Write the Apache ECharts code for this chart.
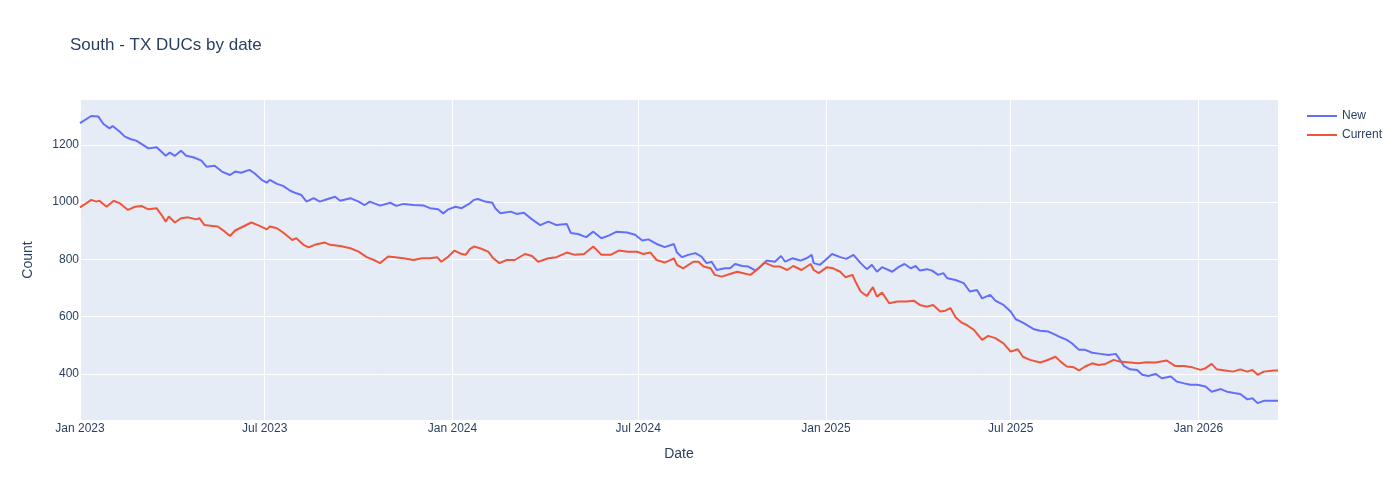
<!DOCTYPE html>
<html>
<head>
<meta charset="utf-8">
<script src="https://cdn.jsdelivr.net/npm/echarts@6/dist/echarts.min.js"></script>
<style>
html,body{margin:0;padding:0;background:#fff;}
#chart{width:1400px;height:500px;}
</style>
</head>
<body>
<div id="chart"></div>
<script>
// Days since 2023-01-01 and values
const newDays = [0,11,18,23,29,32,39,44,50,55,59,67,75,78,84,88,93,99,104,111,119,124,132,139,147,152,158,166,171,178,183,186,193,199,206,212,217,222,229,235,242,250,255,265,273,279,284,294,304,310,317,327,337,343,351,356,361,368,374,382,386,390,397,404,407,412,422,428,435,443,451,459,467,477,481,488,496,503,511,518,526,536,544,551,557,565,573,582,585,590,596,603,609,614,619,624,632,637,642,649,655,662,667,673,681,687,691,698,706,712,717,719,725,730,737,745,751,758,765,771,776,781,786,796,802,808,814,819,823,830,835,841,846,850,858,866,872,879,884,892,897,905,912,917,924,935,941,949,954,961,967,972,979,985,992,1000,1008,1015,1018,1023,1029,1036,1041,1047,1054,1060,1069,1075,1082,1088,1095,1103,1109,1118,1124,1131,1137,1144,1149,1154,1160,1167,1174];
const newValues = [1276,1301,1299,1273,1258,1266,1246,1229,1220,1215,1206,1188,1192,1182,1162,1173,1162,1180,1162,1157,1145,1124,1127,1107,1095,1107,1103,1113,1101,1078,1068,1078,1064,1057,1040,1031,1025,1002,1014,1002,1010,1019,1005,1014,1002,990,1002,988,998,987,994,990,988,979,975,961,975,984,979,996,1008,1011,1002,998,979,961,967,959,963,940,920,932,920,924,892,889,878,897,874,883,897,894,886,866,870,854,843,854,824,808,816,822,810,787,792,763,769,769,784,777,775,761,775,796,792,812,792,804,796,804,816,787,781,796,819,808,802,816,787,766,781,757,773,757,773,784,769,777,761,766,761,746,752,734,728,717,688,693,664,676,656,641,618,591,579,556,551,548,540,528,519,507,484,484,474,470,466,470,455,428,416,414,397,393,400,385,391,373,367,362,362,356,338,347,338,333,330,311,315,298,306,306,306];

const currentDays = [0,6,11,16,19,26,33,39,47,54,60,67,75,80,84,87,93,99,106,114,117,122,130,135,142,147,152,160,168,176,183,186,193,199,208,212,219,224,230,240,245,255,265,273,281,288,294,302,309,317,327,335,343,350,354,361,367,371,374,378,382,386,392,400,405,411,418,426,436,443,449,459,467,477,485,494,503,511,520,528,537,546,552,559,565,573,582,585,591,601,606,611,618,622,629,637,644,650,657,663,671,680,686,693,699,707,716,719,724,732,738,745,750,757,760,765,771,777,781,786,793,801,810,817,823,830,836,843,848,853,858,864,869,876,884,890,897,905,912,919,924,931,941,947,956,961,967,974,979,985,992,998,1005,1013,1019,1029,1037,1045,1054,1065,1073,1082,1090,1098,1103,1109,1114,1122,1130,1137,1144,1149,1154,1160,1170,1174];
const currentValues = [982,996,1008,1002,1005,984,1005,996,973,984,987,975,979,955,932,950,929,944,947,940,944,920,917,915,897,882,901,915,929,917,905,915,909,894,868,874,851,842,851,859,851,847,839,827,808,798,787,810,808,804,798,804,804,808,792,810,831,824,819,816,836,845,839,827,804,787,798,798,819,812,792,804,808,824,816,819,845,816,816,831,827,827,819,824,798,789,804,781,769,792,792,775,769,746,740,749,757,752,746,763,789,775,775,763,777,763,784,763,752,773,769,757,738,746,722,688,672,703,670,684,647,653,653,656,641,635,641,618,621,630,598,579,571,554,519,533,525,507,478,486,460,449,440,447,460,443,426,423,412,426,437,431,435,449,443,440,437,441,440,447,428,428,423,414,420,435,416,412,408,416,408,414,397,408,412,412];

const xTickDates = ['2023-01-01','2023-07-01','2024-01-01','2024-07-01','2025-01-01','2025-07-01','2026-01-01'];
const yTicks = [400,600,800,1000,1200];

const DAY = 86400000;
const START = Date.UTC(2023,0,1);
const toPairs = (days, vals) => days.map((d,i) => [START + d*DAY, vals[i]]);
const xTickTs = xTickDates.map(s => Date.parse(s + 'T00:00:00Z'));
const MONTHS = ['Jan','Feb','Mar','Apr','May','Jun','Jul','Aug','Sep','Oct','Nov','Dec'];

const font = 'Liberation Sans, Arial, sans-serif';
const textColor = '#2a3f5f';

const chart = echarts.init(document.getElementById('chart'), null, {renderer:'canvas'});
chart.setOption({
  animation: false,
  backgroundColor: '#ffffff',
  title: {
    text: 'South - TX DUCs by date',
    left: 65, top: 32,
    textStyle: {fontFamily: font, fontSize: 17, fontWeight: 'normal', color: textColor}
  },
  legend: {
    orient: 'vertical',
    left: 1301, top: 105,
    itemWidth: 30, itemHeight: 12, itemGap: 7,
    itemStyle: {opacity: 0},
    textStyle: {fontFamily: font, fontSize: 12, color: textColor},
    data: ['New','Current']
  },
  grid: {left: 80, right: 122, top: 100, bottom: 80, show: true, backgroundColor: '#E5ECF6', borderWidth: 0},
  xAxis: {
    type: 'value',
    min: START + newDays[0]*DAY,
    max: START + newDays[newDays.length-1]*DAY,
    name: 'Date', nameLocation: 'middle', nameGap: 27,
    nameTextStyle: {fontFamily: font, fontSize: 14, color: textColor},
    axisLine: {show: false},
    axisTick: {show: false, customValues: xTickTs},
    axisLabel: {
      customValues: xTickTs,
      margin: 3,
      fontFamily: font, fontSize: 12, color: textColor,
      formatter: v => { const d = new Date(v); return MONTHS[d.getUTCMonth()] + ' ' + d.getUTCFullYear(); }
    },
    splitLine: {show: true, lineStyle: {color: '#ffffff', width: 1}}
  },
  yAxis: {
    type: 'value',
    min: 239, max: 1357,
    name: 'Count', nameLocation: 'middle', nameGap: 45,
    nameTextStyle: {fontFamily: font, fontSize: 14, color: textColor},
    axisLine: {show: false},
    axisTick: {show: false, customValues: yTicks},
    axisLabel: {customValues: yTicks, margin: 1, fontFamily: font, fontSize: 12, color: textColor,
      formatter: v => String(v)},
    splitLine: {show: true, lineStyle: {color: '#ffffff', width: 1}}
  },
  series: [
    {name: 'New', type: 'line', data: toPairs(newDays, newValues), showSymbol: false, symbol: 'none',
     lineStyle: {color: '#636efa', width: 2}, itemStyle: {color: '#636efa'}},
    {name: 'Current', type: 'line', data: toPairs(currentDays, currentValues), showSymbol: false, symbol: 'none',
     lineStyle: {color: '#EF553B', width: 2}, itemStyle: {color: '#EF553B'}}
  ]
});
</script>
</body>
</html>
